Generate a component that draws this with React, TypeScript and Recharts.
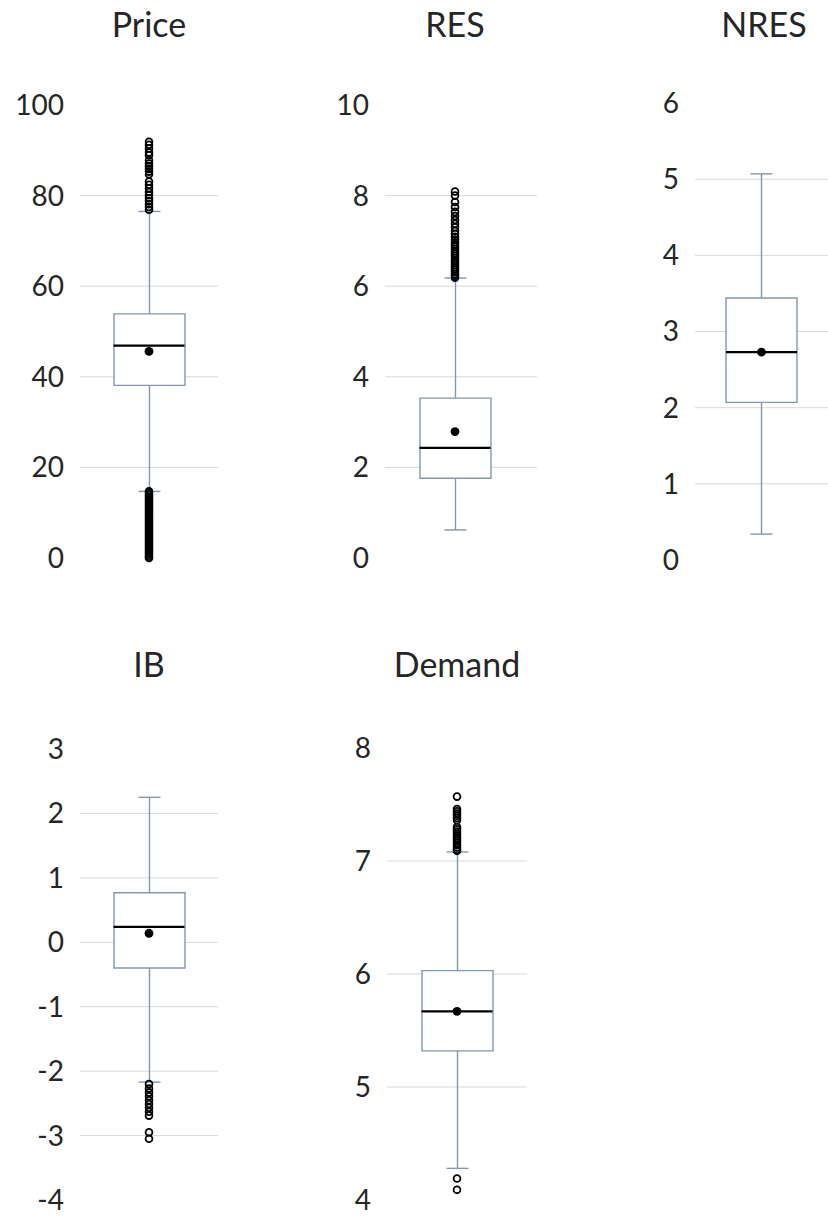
import { ComposedChart, Bar, Scatter, XAxis, YAxis, CartesianGrid } from "recharts";

// values
const panelNames = ["Price", "RES", "NRES", "IB", "Demand"];
const whiskerLow = [14.7, 0.62, 0.34, -2.17, 4.28];
const q1Values = [38.1, 1.76, 2.07, -0.4, 5.32];
const medianValues = [46.9, 2.43, 2.73, 0.24, 5.67];
const meanValues = [45.6, 2.79, 2.73, 0.14, 5.67];
const q3Values = [53.9, 3.53, 3.44, 0.77, 6.03];
const whiskerHigh = [76.5, 6.18, 5.07, 2.25, 7.08];

const priceOutliers = [
    91.9, 91.2, 90.4, 89.5, 88.9, 87.8, 87.1, 86.5, 85.9, 85.3, 84.7, 83.1, 82.4, 81.6, 80.8, 80.1, 79.4,
    78.8, 78.1, 77.5, 76.9, 14.7, 14.3, 13.9, 13.5, 13.1, 12.7, 12.3, 11.9, 11.5, 11.1, 10.7, 10.3, 9.9,
    9.5, 9.1, 8.7, 8.3, 7.9, 7.5, 7.1, 6.7, 6.3, 5.9, 5.5, 5.1, 4.7, 4.3, 3.9, 3.5, 3.1, 2.7, 2.3, 1.9,
    1.5, 1.1, 0.7, 0.3, 0.0,
];
const resOutliers = [
    8.09, 8.0, 7.86, 7.75, 7.64, 7.55, 7.46, 7.38, 7.3, 7.22, 7.15, 7.09, 7.03, 6.97, 6.92, 6.87, 6.82,
    6.77, 6.72, 6.67, 6.62, 6.57, 6.52, 6.47, 6.42, 6.37, 6.32, 6.27, 6.23, 6.19,
];
const nresOutliers: number[] = [];
const ibOutliers = [-2.2, -2.27, -2.33, -2.39, -2.45, -2.51, -2.57, -2.63, -2.69, -2.95, -3.05];
const demandOutliers = [
    7.57, 7.46, 7.44, 7.42, 7.4, 7.38, 7.36, 7.3, 7.28, 7.26, 7.24, 7.22, 7.2, 7.18, 7.16, 7.14, 7.12,
    7.1, 7.09, 4.19, 4.09,
];
const outlierLists = [priceOutliers, resOutliers, nresOutliers, ibOutliers, demandOutliers];

const priceTicks = [0, 20, 40, 60, 80, 100];
const resTicks = [0, 2, 4, 6, 8, 10];
const nresTicks = [0, 1, 2, 3, 4, 5, 6];
const ibTicks = [-4, -3, -2, -1, 0, 1, 2, 3];
const demandTicks = [4, 5, 6, 7, 8];
const tickLists = [priceTicks, resTicks, nresTicks, ibTicks, demandTicks];

// page layout of each small chart (pixels)
const layout = [
    { plotLeft: 80, plotRight: 218, plotTop: 105, plotBottom: 558, padRight: 0, titleX: 149, titleBase: 37 },
    { plotLeft: 385, plotRight: 537, plotTop: 105, plotBottom: 558, padRight: 12, titleX: 455, titleBase: 37 },
    { plotLeft: 695, plotRight: 828, plotTop: 103, plotBottom: 560, padRight: 0, titleX: 764, titleBase: 37 },
    { plotLeft: 80, plotRight: 218, plotTop: 749, plotBottom: 1200, padRight: 0, titleX: 149, titleBase: 677 },
    { plotLeft: 387, plotRight: 527, plotTop: 748, plotBottom: 1200, padRight: 0, titleX: 457, titleBase: 677 },
];

const FONT = "Lato, 'Open Sans', sans-serif";
const TEXT = "#262626";
const BOX = "#8497b0";
const GRID = "#d9d9d9";
const AXIS_W = 80;
const BOX_W = 71;
const CAP_W = 22;
const TITLE_SIZE = 34;

const WhiskerShape = (props: any) => {
    const { x, y, width, height } = props;
    const cx = x + width / 2;
    const top = Math.min(y, y + height);
    const bottom = Math.max(y, y + height);
    return (
        <g>
            <line x1={cx} x2={cx} y1={top} y2={bottom} stroke={BOX} strokeWidth={1.4} />
            <line x1={cx - CAP_W / 2} x2={cx + CAP_W / 2} y1={top} y2={top} stroke={BOX} strokeWidth={1.4} />
            <line x1={cx - CAP_W / 2} x2={cx + CAP_W / 2} y1={bottom} y2={bottom} stroke={BOX} strokeWidth={1.4} />
        </g>
    );
};

const MedianShape = (props: any) => (
    <line x1={props.cx - BOX_W / 2} x2={props.cx + BOX_W / 2} y1={props.cy} y2={props.cy} stroke="#000" strokeWidth={2.2} />
);

const MeanShape = (props: any) => <circle cx={props.cx} cy={props.cy} r={4.4} fill="#000" />;

const OutlierShape = (props: any) => (
    <circle cx={props.cx} cy={props.cy} r={3.4} fill="none" stroke="#000" strokeWidth={1.8} />
);

const BoxPanel = ({ index }: { index: number }) => {
    const name = panelNames[index];
    const ticks = tickLists[index];
    const l = layout[index];
    const margin = 25;
    const left = l.plotLeft - AXIS_W;
    const top = l.plotTop - margin;
    const width = l.plotRight - left;
    const height = l.plotBottom - l.plotTop + margin * 2;

    const rows = [{ name, whisker: [whiskerLow[index], whiskerHigh[index]], box: [q1Values[index], q3Values[index]] }];
    const medianData = [{ name, y: medianValues[index] }];
    const meanData = [{ name, y: meanValues[index] }];
    const outlierData = outlierLists[index].map((v) => ({ name, y: v }));

    return (
        <>
            <div
                style={{
                    position: "absolute",
                    left: l.titleX - 100,
                    width: 200,
                    top: l.titleBase - TITLE_SIZE * 0.887,
                    fontSize: TITLE_SIZE,
                    lineHeight: `${TITLE_SIZE}px`,
                    textAlign: "center",
                    color: TEXT,
                    fontFamily: FONT,
                }}
            >
                {name}
            </div>
            <div style={{ position: "absolute", left, top }}>
                <ComposedChart width={width} height={height} data={rows} margin={{ top: margin, bottom: margin, left: 0, right: 0 }}>
                    <CartesianGrid vertical={false} stroke={GRID} horizontalValues={ticks.slice(1, -1)} />
                    <XAxis xAxisId="w" dataKey="name" type="category" hide allowDuplicatedCategory={false} padding={{ left: 0, right: l.padRight }} />
                    <XAxis xAxisId="b" dataKey="name" type="category" hide allowDuplicatedCategory={false} padding={{ left: 0, right: l.padRight }} />
                    <YAxis
                        type="number"
                        domain={[ticks[0], ticks[ticks.length - 1]]}
                        ticks={ticks}
                        interval={0}
                        width={AXIS_W}
                        axisLine={false}
                        tickLine={false}
                        tickMargin={10}
                        tick={{ fontSize: 28, fill: TEXT, fontFamily: FONT }}
                    />
                    <Bar xAxisId="w" dataKey="whisker" barSize={BOX_W} shape={WhiskerShape} isAnimationActive={false} />
                    <Bar xAxisId="b" dataKey="box" barSize={BOX_W} fill="#fff" stroke={BOX} strokeWidth={1.4} isAnimationActive={false} />
                    <Scatter xAxisId="b" data={medianData} dataKey="y" shape={MedianShape} isAnimationActive={false} />
                    <Scatter xAxisId="b" data={meanData} dataKey="y" shape={MeanShape} isAnimationActive={false} />
                    {outlierData.length > 0 && (
                        <Scatter xAxisId="b" data={outlierData} dataKey="y" shape={OutlierShape} isAnimationActive={false} />
                    )}
                </ComposedChart>
            </div>
        </>
    );
};

export default function App() {
    return (
        <div style={{ position: "absolute", left: 0, top: 0, width: 828, height: 1218, overflow: "hidden", background: "#fff", fontFamily: FONT }}>
            {panelNames.map((n, i) => (
                <BoxPanel key={n} index={i} />
            ))}
        </div>
    );
}
